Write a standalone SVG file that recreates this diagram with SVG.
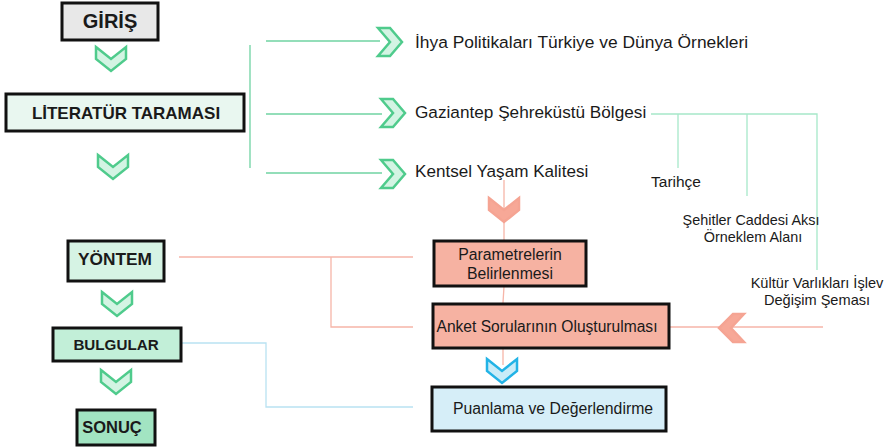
<svg xmlns="http://www.w3.org/2000/svg" width="886" height="448" viewBox="0 0 886 448">
<style>
.box{stroke:#111;stroke-width:3}
.t{font-family:"Liberation Sans",Arial,sans-serif;fill:#1a1a1a}
.b{font-weight:bold}
.gl{stroke:#6fd3a2;stroke-width:1.3;fill:none}
.gl2{stroke:#a6e8c9;stroke-width:1.3;fill:none}
.sl{stroke:#f6b5a8;stroke-width:1.3;fill:none}
.bl{stroke:#b9e2f2;stroke-width:1.3;fill:none}
.cg{fill:#d3f4e3;stroke:#4fcb8c;stroke-width:2.5;stroke-linejoin:miter}
.cs{fill:#f7a897;stroke:#f5a493;stroke-width:2.5}
.cb{fill:#c9ecf8;stroke:#22b3e6;stroke-width:2.5}
</style>
<defs>
<polygon id="cd" points="0,0 15,12 30,0 30,12 15,24 0,12"/>
<polygon id="cr" points="0,0 12,14 0,28 12,28 24,14 12,0"/>
</defs>
<g id="connectors">
<line class="gl" x1="250" y1="45" x2="250" y2="168"/>
<line class="gl" x1="266" y1="41" x2="380" y2="41"/>
<line class="gl" x1="266" y1="114" x2="382" y2="114"/>
<line class="gl" x1="266" y1="173" x2="382" y2="173"/>
<polyline class="gl2" points="651,114 817,114 817,270"/>
<line class="gl2" x1="678" y1="114" x2="678" y2="168"/>
<line class="gl2" x1="747" y1="114" x2="747" y2="196"/>
<line class="sl" x1="504" y1="180" x2="504" y2="240"/>
<line class="sl" x1="504" y1="286" x2="503" y2="303"/>
<line class="sl" x1="503" y1="348" x2="503" y2="365"/>
<line class="sl" x1="179" y1="257" x2="413" y2="257"/>
<polyline class="sl" points="331,257 331,327 413,327"/>
<line class="sl" x1="669" y1="327" x2="823" y2="327"/>
<polyline class="bl" points="181,343 266,343 266,407 413,407"/>
<use href="#cd" class="cg" x="96" y="47"/>
<use href="#cd" class="cg" x="98" y="155"/>
<use href="#cd" class="cg" x="102" y="292"/>
<use href="#cd" class="cg" x="101" y="370"/>
<use href="#cr" class="cg" x="378" y="28"/>
<use href="#cr" class="cg" x="381" y="99"/>
<use href="#cr" class="cg" x="381" y="160"/>
<use href="#cd" class="cs" x="489" y="198"/>
<use href="#cd" class="cb" x="487" y="359"/>
<polygon class="cs" points="744,314 731,328 744,342 733,342 719,328 733,314"/>
</g>
<g id="giris"><rect class="box" x="62" y="3" width="96" height="37" fill="#e8e8e8"/><text class="t b" x="110" y="28" font-size="20" text-anchor="middle">GİRİŞ</text></g>
<g id="literatur"><rect class="box" x="6" y="94" width="238" height="37" fill="#e9f7f0"/><text class="t b" x="126" y="119" font-size="17" text-anchor="middle">LİTERATÜR TARAMASI</text></g>
<g id="ihya"><text class="t" x="415" y="48" font-size="17.4">İhya Politikaları Türkiye ve Dünya Örnekleri</text></g>
<g id="gaziantep"><text class="t" x="415" y="118" font-size="17.2">Gaziantep Şehreküstü Bölgesi</text></g>
<g id="kentsel"><text class="t" x="415" y="177" font-size="17.1">Kentsel Yaşam Kalitesi</text></g>
<g id="tarihce"><text class="t" x="676" y="187" font-size="15.5" text-anchor="middle">Tarihçe</text></g>
<g id="sehitler"><text class="t" x="751" y="225" font-size="14.4" text-anchor="middle">Şehitler Caddesi Aksı</text><text class="t" x="753" y="242" font-size="14.4" text-anchor="middle">Örneklem Alanı</text></g>
<g id="kultur"><text class="t" x="817" y="288" font-size="14.6" text-anchor="middle">Kültür Varlıkları İşlev</text><text class="t" x="817" y="305" font-size="14.6" text-anchor="middle">Değişim Şeması</text></g>
<g id="yontem"><rect class="box" x="68" y="241" width="96" height="40" fill="#d6f3e4"/><text class="t b" x="115" y="265" font-size="17.3" text-anchor="middle">YÖNTEM</text></g>
<g id="bulgular"><rect class="box" x="53" y="328" width="128" height="33" fill="#c2efd8"/><text class="t b" x="116" y="350" font-size="15.2" text-anchor="middle">BULGULAR</text></g>
<g id="sonuc"><rect class="box" x="77" y="410" width="78" height="35" fill="#a2e4c2"/><text class="t b" x="112" y="433" font-size="16.5" text-anchor="middle">SONUÇ</text></g>
<g id="parametre"><rect class="box" x="434" y="241" width="152" height="45" fill="#f6b2a2"/><text class="t" x="510" y="260" font-size="15.8" text-anchor="middle">Parametrelerin</text><text class="t" x="510" y="279" font-size="15.8" text-anchor="middle">Belirlenmesi</text></g>
<g id="anket"><rect class="box" x="433" y="304" width="236" height="44" fill="#f6b2a2"/><text class="t" x="547" y="332" font-size="15.6" text-anchor="middle">Anket Sorularının Oluşturulması</text></g>
<g id="puanlama"><rect class="box" x="432" y="387" width="234" height="44" fill="#d6eef8"/><text class="t" x="553" y="414" font-size="15.8" text-anchor="middle">Puanlama ve Değerlendirme</text></g>
</svg>
